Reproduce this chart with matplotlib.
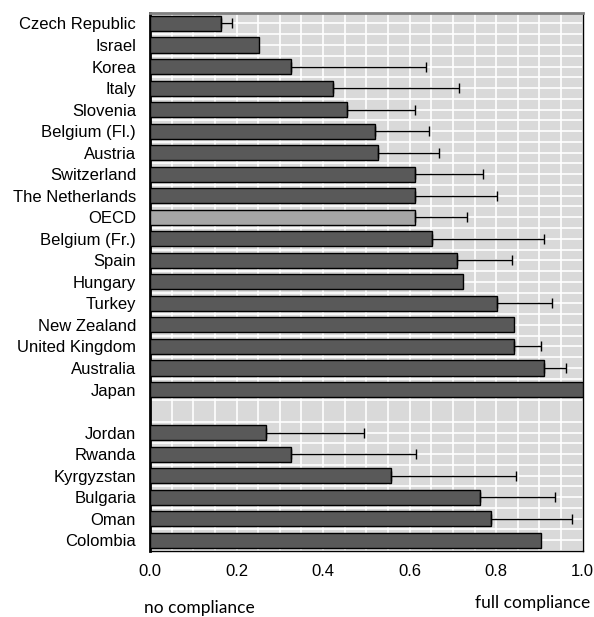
import numpy as np
import matplotlib
matplotlib.use('Agg')
import matplotlib.pyplot as plt
from matplotlib.ticker import MultipleLocator

# countries top to bottom; None marks the gap between the two groups
countries = ['Czech Republic', 'Israel', 'Korea', 'Italy', 'Slovenia', 'Belgium (Fl.)',
             'Austria', 'Switzerland', 'The Netherlands', 'OECD', 'Belgium (Fr.)', 'Spain',
             'Hungary', 'Turkey', 'New Zealand', 'United Kingdom', 'Australia', 'Japan',
             None,
             'Jordan', 'Rwanda', 'Kyrgyzstan', 'Bulgaria', 'Oman', 'Colombia']
values = [0.164, 0.253, 0.327, 0.422, 0.455, 0.519,
          0.528, 0.612, 0.612, 0.612, 0.652, 0.710,
          0.723, 0.802, 0.841, 0.841, 0.910, 1.0,
          None,
          0.268, 0.327, 0.558, 0.763, 0.787, 0.904]
# upper end of the error bar (None = no error bar)
upper = [0.190, None, 0.639, 0.714, 0.612, 0.645,
         0.669, 0.770, 0.801, 0.732, 0.910, 0.837,
         None, 0.928, None, 0.903, 0.961, None,
         None,
         0.494, 0.615, 0.847, 0.936, 0.976, None]

plt.rcParams['font.family'] = ['Liberation Sans', 'DejaVu Sans']

fig = plt.figure(figsize=(5.94, 6.17), dpi=100)
ax = fig.add_axes([150 / 594, 1 - 551 / 617, 432.7 / 594, 538.3 / 617])
ax.set_facecolor('#d9d9d9')

n = len(countries)
for i, (c, v, u) in enumerate(zip(countries, values, upper)):
    if c is None:
        continue
    col = '#a6a6a6' if c == 'OECD' else '#595959'
    ax.barh(i, v, height=0.7, color=col, edgecolor='black', linewidth=1.0, zorder=3)
    if u is not None:
        ax.errorbar(v, i, xerr=[[0], [u - v]], fmt='none', ecolor='black',
                    elinewidth=1.0, capsize=3.5, capthick=1.0, zorder=4)

ax.set_xlim(0, 1.0)
ax.set_ylim(n - 0.5, -0.5)
ax.set_yticks([i for i, c in enumerate(countries) if c is not None])
ax.set_yticklabels([c for c in countries if c is not None], fontsize=12)
ax.set_xticks(np.arange(0, 1.01, 0.2))
ax.set_xticklabels(['%.1f' % t for t in np.arange(0, 1.01, 0.2)], fontsize=12)
ax.xaxis.set_minor_locator(MultipleLocator(0.05))
ax.set_yticks(np.arange(-0.5, n, 1.0), minor=True)
ax.tick_params(axis='both', which='both', length=0)
ax.tick_params(axis='y', pad=10)
ax.tick_params(axis='x', pad=9)
ax.grid(True, which='both', color='white', linewidth=1.2, zorder=1)
ax.set_axisbelow(True)

ax.spines['left'].set_linewidth(2)
ax.spines['left'].set_color('black')
ax.spines['top'].set_color('#808080')
ax.spines['top'].set_linewidth(2)
ax.spines['right'].set_color('black')
ax.spines['right'].set_linewidth(1)
ax.spines['bottom'].set_color('black')
ax.spines['bottom'].set_linewidth(1)

fig.text(199 / 594, 1 - 608 / 617, 'no compliance', ha='center', va='center',
         fontsize=12.5, family=['Lato', 'DejaVu Sans'])
fig.text(533 / 594, 1 - 603 / 617, 'full compliance', ha='center', va='center',
         fontsize=12.5, family=['Lato', 'DejaVu Sans'])

fig.savefig('out.png', dpi=100)
